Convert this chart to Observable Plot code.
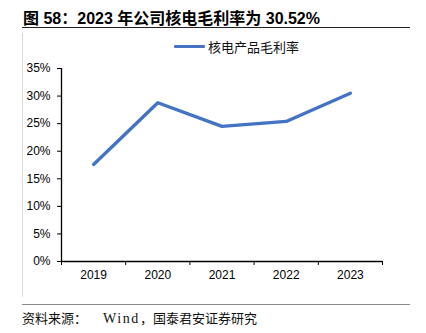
<!DOCTYPE html>
<html>
<head>
<meta charset="utf-8">
<script src="https://cdn.jsdelivr.net/npm/d3@7"></script>
<script src="https://cdn.jsdelivr.net/npm/@observablehq/plot@0.6"></script>
<style>
  html, body { margin: 0; padding: 0; background: #fff; }
  #wrap { position: relative; width: 426px; height: 333px; overflow: hidden; font-family: "Liberation Sans", Arial, "Noto Sans CJK SC", sans-serif; }
  #title { position: absolute; left: 23px; top: 5px; font-size: 16px; font-weight: bold; color: #000; white-space: nowrap; font-family: "Liberation Sans", Arial, "Noto Sans CJK SC", sans-serif; }
  #titleRule { position: absolute; left: 22px; top: 27px; width: 388px; height: 0; border-top: 1.3px solid #222; }
  #leftRule { position: absolute; left: 22px; top: 33px; width: 0; height: 264px; border-left: 1px solid #d9d9d9; }
  #bottomRule { position: absolute; left: 22px; top: 304px; width: 388px; height: 0; border-top: 1.5px solid #8c8c8c; }
  #source { position: absolute; left: 22px; top: 308px; font-size: 13px; color: #111; white-space: nowrap; font-family: "Liberation Serif", "Noto Sans CJK SC", serif; }
  #source .pre { margin-right: 16px; }
  #source .lat { font-size: 14px; letter-spacing: 1.6px; }
  #source .post { letter-spacing: 0px; }
  #legend { position: absolute; left: 174px; top: 37px; display: flex; align-items: center; font-size: 13px; color: #111; white-space: nowrap; }
  #legend .swatch { width: 31px; height: 3.5px; background: #4472C4; margin-right: 3px; border-radius: 1px; }
  #chart { position: absolute; left: 0; top: 0; }
</style>
</head>
<body>
<div id="wrap">
  <div id="chart"></div>
  <div id="title"></div>
  <div id="titleRule"></div>
  <div id="leftRule"></div>
  <div id="legend"></div>
  <div id="bottomRule"></div>
  <div id="source"><span class="pre"></span><span class="lat"></span><span class="post"></span></div>
</div>
<script>
const titleText = "图 58：2023 年公司核电毛利率为 30.52%";
const seriesName = "核电产品毛利率";
const sourceParts = ["资料来源：", "Wind", "，国泰君安证券研究"];
const years = ["2019", "2020", "2021", "2022", "2023"];
const grossMargin = [17.6, 28.8, 24.5, 25.4, 30.52];
const yTicks = [0, 5, 10, 15, 20, 25, 30, 35];

document.getElementById("title").textContent = titleText;
const src = document.getElementById("source");
src.querySelector(".pre").textContent = sourceParts[0];
src.querySelector(".lat").textContent = sourceParts[1];
src.querySelector(".post").textContent = sourceParts[2];
const legend = document.getElementById("legend");
const sw = document.createElement("div"); sw.className = "swatch";
const lt = document.createElement("span"); lt.textContent = seriesName;
legend.appendChild(sw); legend.appendChild(lt);

const data = years.map((y, i) => ({pos: i + 0.5, year: y, value: grossMargin[i]}));
const boundaries = d3.range(years.length + 1);
const centers = years.map((y, i) => i + 0.5);

const chart = Plot.plot({
  width: 426,
  height: 333,
  marginLeft: 61,
  marginRight: 44,
  marginTop: 68,
  marginBottom: 72,
  style: {fontFamily: "Liberation Sans, Arial, sans-serif", fontSize: "12px", color: "#000", background: "transparent"},
  x: {type: "linear", domain: [0, years.length]},
  y: {domain: [0, 35]},
  marks: [
    Plot.axisY({ticks: yTicks, tickFormat: d => d + "%", tickSize: 4, tickPadding: 7, label: null, stroke: "#000", fontSize: 12}),
    Plot.axisX({ticks: boundaries, tickFormat: () => "", tickSize: 4, label: null, stroke: "#000"}),
    Plot.axisX({ticks: centers, tickFormat: d => years[Math.round(d - 0.5)], tickSize: 0, tickPadding: 9, label: null, fontSize: 12}),
    Plot.ruleX([0], {stroke: "#000", strokeWidth: 1.3}),
    Plot.ruleY([0], {stroke: "#000", strokeWidth: 1.3}),
    Plot.line(data, {x: "pos", y: "value", stroke: "#4472C4", strokeWidth: 3.3, strokeLinecap: "round", strokeLinejoin: "round"})
  ]
});
document.getElementById("chart").appendChild(chart);
</script>
</body>
</html>
